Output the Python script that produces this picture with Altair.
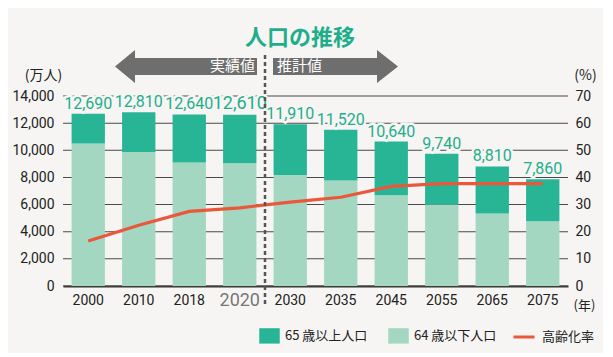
import altair as alt
import pandas as pd

# ---- data ----
years = ["2000", "2010", "2018", "2020", "2030", "2035", "2045", "2055", "2065", "2075"]
total = [12690, 12810, 12640, 12610, 11910, 11520, 10640, 9740, 8810, 7860]
under64 = [10500, 9880, 9100, 9050, 8180, 7780, 6680, 6000, 5340, 4780]
rate = [16.6, 22.4, 27.5, 28.8, 30.9, 32.7, 36.7, 37.7, 37.7, 37.7]
series = ["65 歳以上人口", "64 歳以下人口"]
line_name = "高齢化率"
left_ticks = list(range(0, 14001, 2000))
right_ticks = list(range(0, 71, 10))
phase_labels = ["実績値", "推計値"]
chart_title = "人口の推移"

# ---- style ----
BG = "#f6f5f3"
DARK = "#27b596"
LIGHT = "#a3d7c1"
TEAL_TXT = "#1fae8c"
ORANGE = "#e9583b"
JP = "Noto Sans CJK JP"
NUM = "Roboto"

rows = []
for y, t, u in zip(years, total, under64):
    rows.append({"year": y, "series": series[1], "value": u, "ord": 0})
    rows.append({"year": y, "series": series[0], "value": t - u, "ord": 1})
bars_df = pd.DataFrame(rows)
lab_df = pd.DataFrame({"year": years, "total": total,
                       "label": [f"{v:,}" for v in total]})
line_df = pd.DataFrame({"year": years, "rate": rate, "name": [line_name] * len(years)})
grid_df = pd.DataFrame({"tick": left_ticks})

xenc = alt.X(
    "year:N", sort=years,
    scale=alt.Scale(paddingInner=0.34, paddingOuter=0.17),
    axis=alt.Axis(
        title="(年)", titleAngle=0, titleX=521, titleY=19, titleBaseline="middle",
        titleAlign="center", titleFont=JP, titleFontSize=13, titleFontWeight="normal",
        titleColor="#222",
        labelAngle=0, labelFont=NUM, labelBaseline="middle", labelPadding=14,
        labelFontSize={"condition": {"test": "datum.value === '2020'", "value": 18}, "value": 14},
        labelColor={"condition": {"test": "datum.value === '2020'", "value": "#777777"}, "value": "#222222"},
        domainColor="#333", domainWidth=2, ticks=False, grid=False,
    ),
)

yleft_scale = alt.Scale(domain=[0, 14000], nice=False)
yleft_axis = alt.Axis(values=left_ticks, labelExpr="format(datum.value, ',')", title="(万人)",
                      titleAngle=0,
                      titleX=-20, titleY=-21, titleAlign="center", titleBaseline="middle",
                      titleFont=JP, titleFontSize=14, titleFontWeight="normal", titleColor="#222",
                      labelFont=NUM, labelFontSize=14, labelColor="#222", labelPadding=9,
                      domain=False, ticks=False, grid=False)

# thin full-width bands used as horizontal gridlines
gridlines = alt.Chart(grid_df).transform_calculate(
    lo="datum.tick - 38", hi="datum.tick + 38"
).mark_rect(color="#4a4a4a").encode(
    y=alt.Y("lo:Q", scale=yleft_scale, axis=None),
    y2="hi:Q",
)

bars = alt.Chart(bars_df).mark_bar().encode(
    x=xenc,
    y=alt.Y("value:Q", stack="zero", scale=yleft_scale, axis=yleft_axis),
    color=alt.Color("series:N", scale=alt.Scale(domain=series, range=[DARK, LIGHT]),
                    legend=alt.Legend(title=None, orient="none", legendX=196, legendY=229,
                                      direction="horizontal",
                                      symbolType="M-1,-0.75L1,-0.75L1,0.75L-1,0.75Z",
                                      symbolSize=420, symbolStrokeWidth=0, symbolOpacity=1,
                                      labelFont=JP, labelFontSize=13, labelColor="#222",
                                      labelOffset=5, columnPadding=20)),
    order=alt.Order("ord:Q"),
)

size_cond = alt.condition("datum.year === '2020'", alt.value(18), alt.value(16))
label_bg = alt.Chart(lab_df).mark_text(
    font=NUM, baseline="bottom", dy=-2, fill=BG, stroke=BG, strokeWidth=5
).encode(x=xenc, y=alt.Y("total:Q", scale=yleft_scale, axis=None), text="label:N", size=size_cond)
label_fg = alt.Chart(lab_df).mark_text(
    font=NUM, baseline="bottom", dy=-2, color=TEAL_TXT
).encode(x=xenc, y=alt.Y("total:Q", scale=yleft_scale, axis=None), text="label:N", size=size_cond)

line = alt.Chart(line_df).mark_line(strokeWidth=3.2).encode(
    x=xenc,
    y=alt.Y("rate:Q", scale=alt.Scale(domain=[0, 70], nice=False),
            axis=alt.Axis(orient="right", values=right_ticks, title="(%)", titleAngle=0,
                          titleX=17, titleY=-21, titleAlign="center", titleBaseline="middle",
                          titleFont=JP, titleFontSize=14, titleFontWeight="normal", titleColor="#222",
                          labelFont=NUM, labelFontSize=14, labelColor="#222", labelPadding=7,
                          domain=False, ticks=False, grid=False)),
    stroke=alt.Stroke("name:N", scale=alt.Scale(domain=[line_name], range=[ORANGE]),
                      legend=alt.Legend(title=None, orient="none", legendX=449, legendY=229,
                                        symbolType="stroke", symbolSize=441, symbolStrokeWidth=3,
                                        labelFont=JP, labelFontSize=13, labelColor="#222",
                                        labelOffset=6)),
)

one = pd.DataFrame({"k": [0]})
divider = alt.Chart(one).mark_rule(color="#555", strokeWidth=2.5, strokeDash=[4, 3]).encode(
    x=alt.value(202), y=alt.value(-41), y2=alt.value(208))

left_arrow = alt.Chart(one).mark_point(
    shape="M-1,0L-0.718,-0.232L-0.718,-0.12L1,-0.12L1,0.12L-0.718,0.12L-0.718,0.232Z",
    size=142 * 142, filled=True, color="#6e6e6e", opacity=1, strokeWidth=0
).encode(x=alt.value(123), y=alt.value(-29.5))
right_arrow = alt.Chart(one).mark_point(
    shape="M1,0L0.664,-0.264L0.664,-0.136L-1,-0.136L-1,0.136L0.664,0.136L0.664,0.264Z",
    size=125 * 125, filled=True, color="#6e6e6e", opacity=1, strokeWidth=0
).encode(x=alt.value(272.5), y=alt.value(-29.5))

ann_df = pd.DataFrame({"t": phase_labels})
past_txt = alt.Chart(ann_df.iloc[[0]]).mark_text(
    font=JP, fontSize=15, color="white", align="right", baseline="middle"
).encode(x=alt.value(192), y=alt.value(-30), text="t:N")
fut_txt = alt.Chart(ann_df.iloc[[1]]).mark_text(
    font=JP, fontSize=15, color="white", align="left", baseline="middle"
).encode(x=alt.value(214), y=alt.value(-30), text="t:N")

title_txt = alt.Chart(pd.DataFrame({"t": [chart_title]})).mark_text(
    font=JP, fontSize=22, fontWeight="bold", color=TEAL_TXT, align="center", baseline="middle"
).encode(x=alt.value(237), y=alt.value(-58), text="t:N")

chart = alt.layer(
    gridlines, bars, label_bg, label_fg, line, divider, left_arrow, right_arrow,
    past_txt, fut_txt, title_txt
).resolve_scale(y="independent").properties(
    width=505, height=190,
    autosize=alt.AutoSizeParams(type="none"),
    padding={"left": 55, "top": 88, "right": 35, "bottom": 67},
    background=BG,
).configure_view(stroke=None)

chart.save("out.html", embed_options={"renderer": "svg", "actions": False})
